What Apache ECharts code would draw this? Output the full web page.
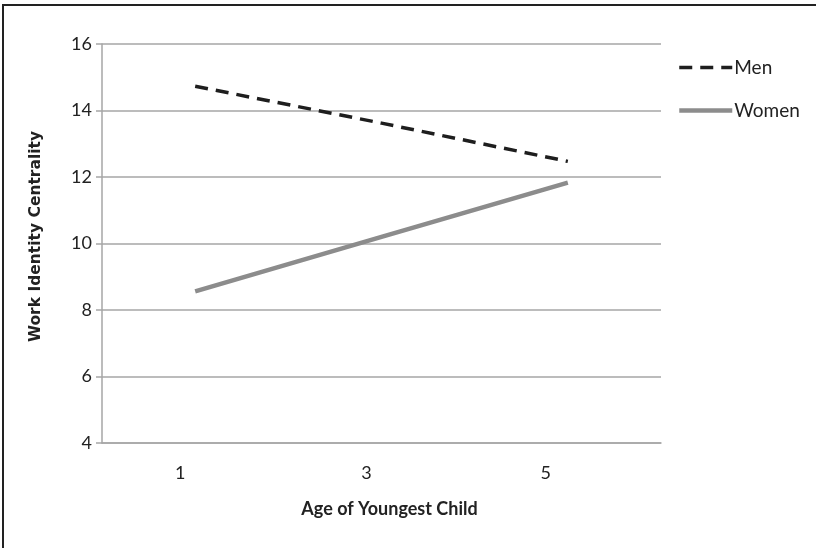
<!DOCTYPE html>
<html>
<head>
<meta charset="utf-8">
<script src="https://cdn.jsdelivr.net/npm/echarts@6/dist/echarts.min.js"></script>
<style>
  html, body { margin: 0; padding: 0; background: #fff; }
  #frame { position: absolute; left: 2px; top: 4px; width: 814px; height: 544px; border-left: 2px solid #222; border-top: 2px solid #222; box-sizing: border-box; }
  #chart { position: absolute; left: 0; top: 0; width: 816px; height: 548px; }
</style>
</head>
<body>
<div id="frame"></div>
<div id="chart"></div>
<script>
const categories = ['1', '3', '5'];
const menValues = [14.73, 13.62, 12.47];
const womenValues = [8.56, 10.2, 11.83];
const seriesNames = ['Men', 'Women'];
const xTitle = 'Age of Youngest Child';
const yTitle = 'Work Identity Centrality';

const chart = echarts.init(document.getElementById('chart'), null, { renderer: 'canvas' });
const gridColor = '#a6a6a6';
const font = 'Lato, "Open Sans", sans-serif';
const tickSize = 18;

chart.setOption({
  backgroundColor: 'transparent',
  animation: false,
  grid: { left: 102, right: 155, top: 44, bottom: 105 },
  legend: {
    orient: 'vertical',
    left: 672,
    top: 53,
    itemWidth: 53,
    itemHeight: 14,
    itemGap: 24,
    data: [
      { name: seriesNames[0], lineStyle: { width: 3.5 } },
      { name: seriesNames[1], lineStyle: { width: 4.5 } }
    ],
    itemStyle: { color: 'transparent', borderWidth: 0 },
    textStyle: { fontFamily: font, fontSize: 19, color: '#222', padding: [0, 0, 0, -3] }
  },
  xAxis: {
    type: 'category',
    data: categories,
    boundaryGap: true,
    axisLine: { show: true, lineStyle: { color: gridColor, width: 1.5 } },
    axisTick: { show: false },
    axisLabel: {
      margin: 21,
      fontFamily: font,
      fontSize: tickSize,
      color: '#222',
      formatter: (v, i) => '{l' + i + '|' + v + '}',
      rich: {
        l0: { fontFamily: font, fontSize: tickSize, color: '#222', padding: [0, 30, 0, 0] },
        l1: { fontFamily: font, fontSize: tickSize, color: '#222', padding: [0, 30, 10, 0] },
        l2: { fontFamily: font, fontSize: tickSize, color: '#222', padding: [0, 44, 0, 0] }
      }
    },
    name: xTitle,
    nameLocation: 'middle',
    nameGap: 57,
    nameTextStyle: { fontFamily: font, fontWeight: 'bold', fontSize: 18, color: '#222', padding: [0, 0, 0, 16] }
  },
  yAxis: {
    type: 'value',
    min: 4,
    max: 16,
    interval: 2,
    axisLine: { show: true, lineStyle: { color: gridColor, width: 1.5 } },
    axisTick: { show: true, inside: false, length: 6, lineStyle: { color: gridColor, width: 1.5 } },
    splitLine: { show: true, lineStyle: { color: gridColor, width: 1.5 } },
    axisLabel: { margin: 10, fontFamily: font, fontSize: tickSize, color: '#222' },
    name: yTitle,
    nameLocation: 'middle',
    nameRotate: 90,
    nameGap: 58,
    nameTextStyle: { fontFamily: '"DejaVu Sans", Verdana, sans-serif', fontWeight: 'bold', fontSize: 15.5, color: '#222', padding: [0, 0, 0, 14] }
  },
  series: [
    {
      name: seriesNames[0],
      type: 'line',
      data: menValues,
      symbol: 'none',
      itemStyle: { color: '#1e1e1e' },
      lineStyle: { color: '#1e1e1e', width: 3.5, type: [13, 8] }
    },
    {
      name: seriesNames[1],
      type: 'line',
      data: womenValues,
      symbol: 'none',
      itemStyle: { color: '#8c8c8c' },
      lineStyle: { color: '#8c8c8c', width: 4.5, type: 'solid' }
    }
  ]
});
</script>
</body>
</html>
